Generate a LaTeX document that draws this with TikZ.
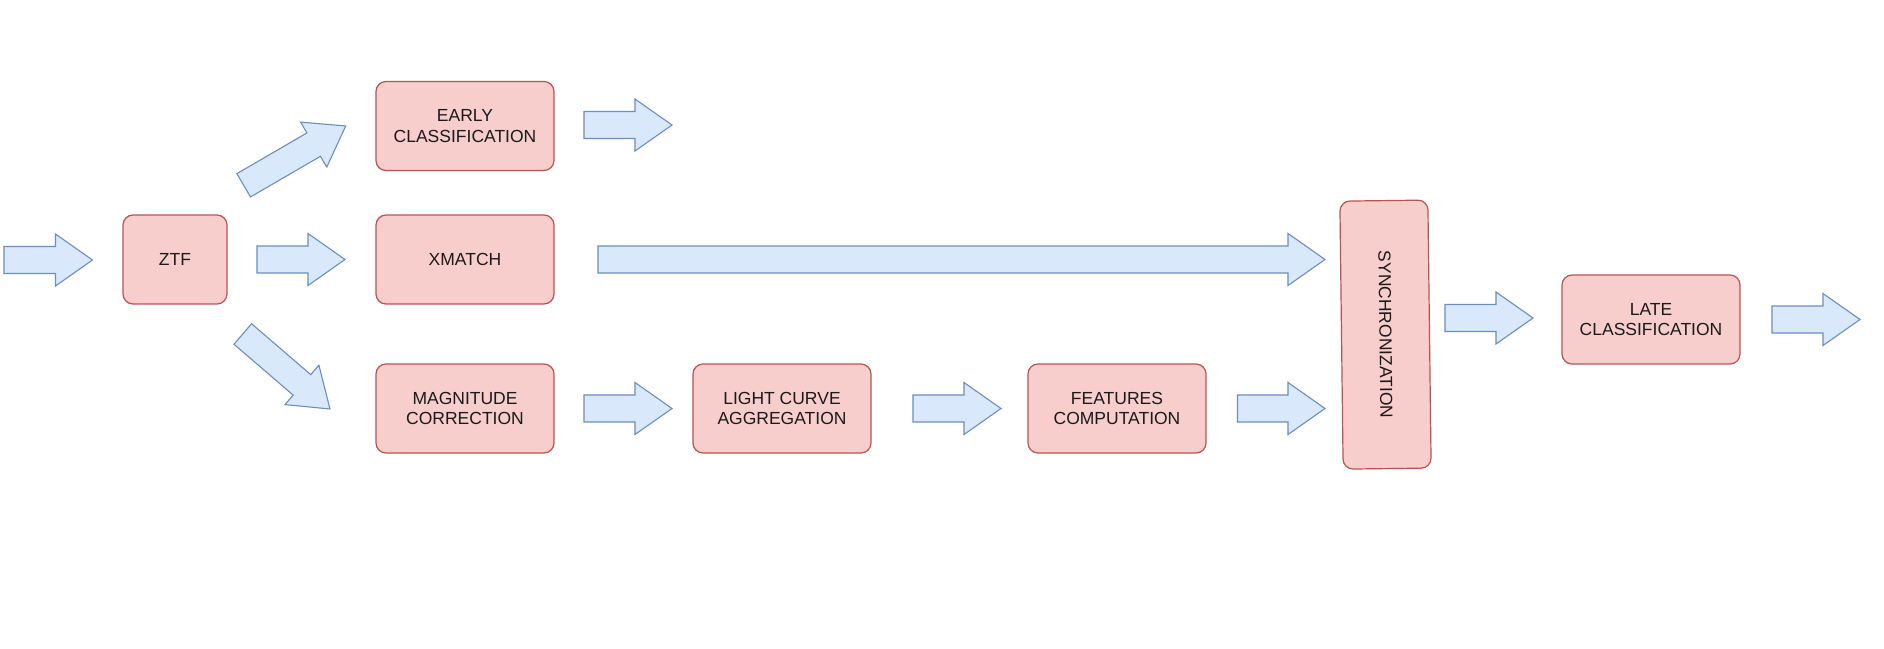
\documentclass[tikz,border=0pt]{standalone}
\usepackage{fontspec}
\setmainfont{Liberation Sans}
\usetikzlibrary{calc}
\definecolor{boxfill}{HTML}{F8CECC}
\definecolor{boxdraw}{HTML}{B85450}
\definecolor{arrfill}{HTML}{DAE8FC}
\definecolor{arrdraw}{HTML}{6C8EBF}
\definecolor{txt}{HTML}{1A1A1A}
\tikzset{
  stagebox/.style={draw=boxdraw, fill=boxfill, rounded corners=10pt, line width=1.2pt,
    align=center, text=txt, font=\fontsize{17.5}{20.5}\selectfont,
    minimum width=178pt, minimum height=89pt, inner sep=0pt},
  blockarr/.style={draw=arrdraw, fill=arrfill, line width=1.1pt, line join=miter}
}
\newcommand{\blockarrow}[2]{%
  \coordinate (bacc) at ($(#2)!37pt!(#1)$);
  \draw[blockarr] ($(#1)!13.5pt!90:(#2)$) -- ($(bacc)!13.5pt!90:(#2)$)
    -- ($(bacc)!26pt!90:(#2)$) -- (#2) -- ($(bacc)!26pt!-90:(#2)$)
    -- ($(bacc)!13.5pt!-90:(#2)$) -- ($(#1)!13.5pt!-90:(#2)$) -- cycle;
}
\begin{document}
\begin{tikzpicture}[x=1pt, y=-1pt]
\useasboundingbox (0,0) rectangle (1884,648);
\fill[white] (0,0) rectangle (1884,648);

% nodes
\node[stagebox, minimum width=104pt] (ztf) at (175,259.5) {ZTF};
\node[stagebox] (early) at (465,126) {EARLY\\CLASSIFICATION};
\node[stagebox] (xmatch) at (465,259.5) {XMATCH};
\node[stagebox] (mag) at (465,408.5) {MAGNITUDE\\CORRECTION};
\node[stagebox] (lca) at (782,408.5) {LIGHT CURVE\\AGGREGATION};
\node[stagebox] (fc) at (1117,408.5) {FEATURES\\COMPUTATION};
\node[stagebox, rotate=-89.3, minimum width=268pt, minimum height=88pt] (sync) at (1385.5,334.6) {SYNCHRONIZATION};
\node[stagebox] (late) at (1651,319.5) {LATE\\CLASSIFICATION};

% arrow end points
\coordinate (inS) at (4,260);        \coordinate (inE) at (92.5,260);
\coordinate (zxS) at (257,259.5);    \coordinate (zxE) at (345,259.5);
\coordinate (zeS) at (243.7,185.3);  \coordinate (zeE) at (345.7,126);
\coordinate (zmS) at (242.8,334);    \coordinate (zmE) at (330,409);
\coordinate (eoS) at (584,125);      \coordinate (eoE) at (672,125);
\coordinate (xsS) at (598,259.5);    \coordinate (xsE) at (1325,259.5);
\coordinate (mlS) at (584,408.5);    \coordinate (mlE) at (672,408.5);
\coordinate (lfS) at (913,408.5);    \coordinate (lfE) at (1001,408.5);
\coordinate (fsS) at (1237.5,408.5); \coordinate (fsE) at (1325,408.5);
\coordinate (slS) at (1445,318);     \coordinate (slE) at (1533,318);
\coordinate (loS) at (1772,319.5);   \coordinate (loE) at (1860,319.5);

% block arrows
\blockarrow{inS}{inE}
\blockarrow{zxS}{zxE}
\blockarrow{zeS}{zeE}
\blockarrow{zmS}{zmE}
\blockarrow{eoS}{eoE}
\blockarrow{xsS}{xsE}
\blockarrow{mlS}{mlE}
\blockarrow{lfS}{lfE}
\blockarrow{fsS}{fsE}
\blockarrow{slS}{slE}
\blockarrow{loS}{loE}
\end{tikzpicture}
\end{document}
